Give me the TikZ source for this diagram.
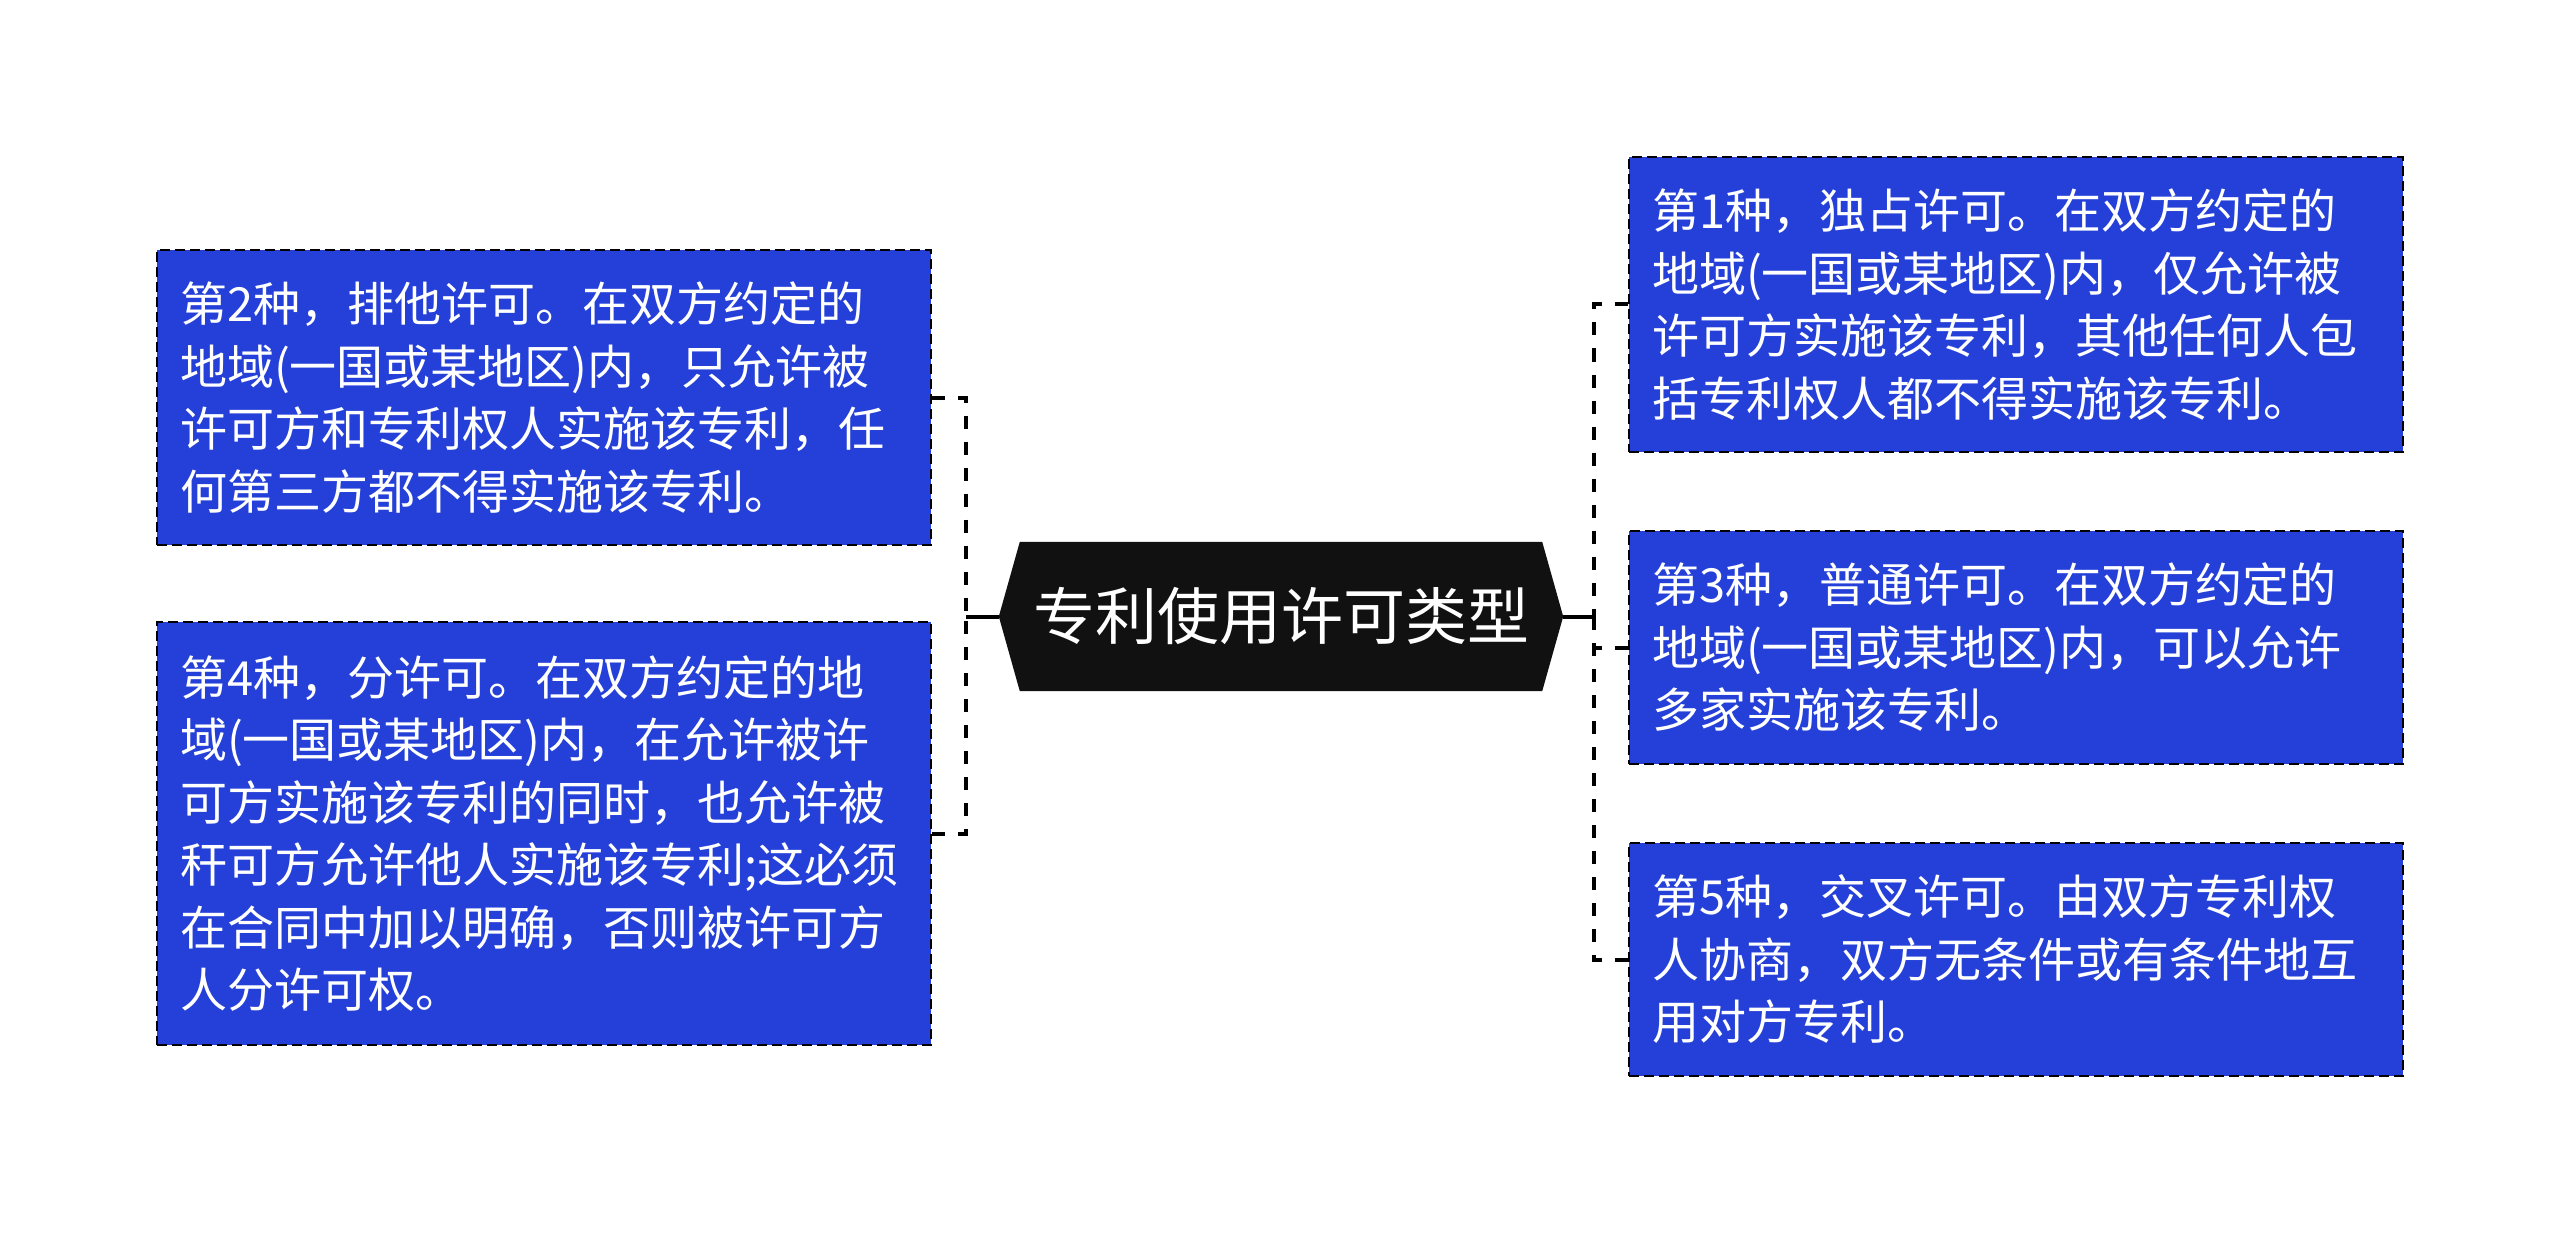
\documentclass[tikz,border=0pt]{standalone}
\usepackage{fontspec}
\newfontfamily\cjk{Noto Sans CJK SC}
\usetikzlibrary{backgrounds}
\definecolor{boxblue}{RGB}{37,64,216}
\definecolor{hexblack}{RGB}{17,17,17}
\begin{document}
\begin{tikzpicture}[x=1pt,y=-1pt,
  leaf/.style={draw=black, line width=2pt, dash pattern=on 10pt off 5pt,
    fill=boxblue, text=white, font={\cjk\fontsize{47pt}{62.5pt}\selectfont},
    align=left, text width=728pt, inner xsep=23pt, inner ysep=0pt,
    minimum width=774pt, anchor=center},
  hexnode/.style={text=white, font={\cjk\fontsize{62pt}{70pt}\selectfont},
    minimum width=522pt, minimum height=149pt, inner sep=0pt},
  conn/.style={line width=4pt, dash pattern=on 13pt off 13pt},
  trunk/.style={line width=4pt}]
\useasboundingbox (0,0) rectangle (2560,1233);
\begin{pgfonlayer}{background}
\fill[white] (0,0) rectangle (2560,1233);
\end{pgfonlayer}

\node[hexnode] (c) at (1281,616.5) {专利使用许可类型};
\coordinate (cl) at ([xshift=-21pt]c.west);
\coordinate (cr) at ([xshift=21pt]c.east);
\begin{pgfonlayer}{background}
\fill[hexblack] (c.north west) -- (c.north east) -- (cr) -- (c.south east) -- (c.south west) -- (cl) -- cycle;
\end{pgfonlayer}

\node[leaf, minimum height=295pt] (b2) at (544,397.5) {第2种，排他许可。在双方约定的\\地域(一国或某地区)内，只允许被\\许可方和专利权人实施该专利，任\\何第三方都不得实施该专利。};
\node[leaf, minimum height=423pt] (b4) at (544,833.5) {第4种，分许可。在双方约定的地\\域(一国或某地区)内，在允许被许\\可方实施该专利的同时，也允许被\\秆可方允许他人实施该专利;这必须\\在合同中加以明确，否则被许可方\\人分许可权。};
\node[leaf, minimum height=295pt] (b1) at (2016,304.5) {第1种，独占许可。在双方约定的\\地域(一国或某地区)内，仅允许被\\许可方实施该专利，其他任何人包\\括专利权人都不得实施该专利。};
\node[leaf, minimum height=233pt] (b3) at (2016,647.5) {第3种，普通许可。在双方约定的\\地域(一国或某地区)内，可以允许\\多家实施该专利。};
\node[leaf, minimum height=233pt] (b5) at (2016,959.5) {第5种，交叉许可。由双方专利权\\人协商，双方无条件或有条件地互\\用对方专利。};

\coordinate (lt) at (966,616.5);
\coordinate (rt) at (1594,616.5);
\draw[trunk] (cl) -- (lt);
\draw[trunk] (cr) -- (rt);
\draw[conn] (b2.east) -| (lt);
\draw[conn] (b4.east) -| (lt);
\draw[conn] (b1.west) -| (rt);
\draw[conn] (b3.west) -- (b3.west -| rt);
\draw[conn] (b5.west) -| (rt);
\end{tikzpicture}
\end{document}
